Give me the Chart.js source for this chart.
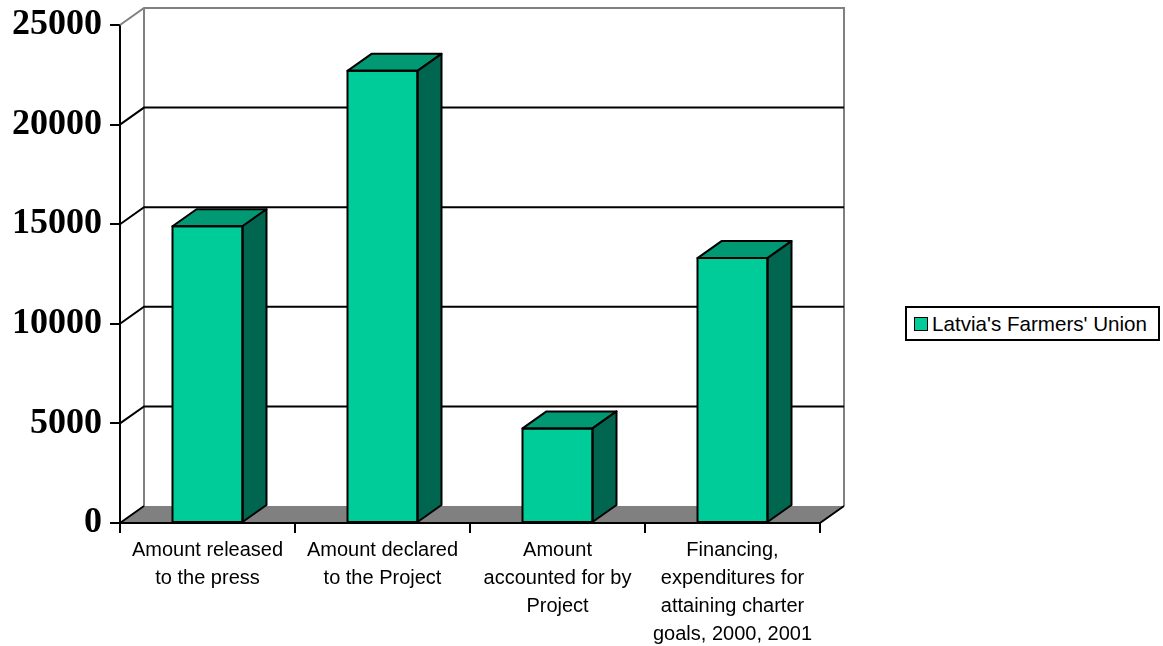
<!DOCTYPE html>
<html>
<head>
<meta charset="utf-8">
<script src="https://cdn.jsdelivr.net/npm/chart.js@4.4.1/dist/chart.umd.min.js"></script>
<style>
  html, body { margin: 0; padding: 0; background: #fff; }
  #wrap { position: relative; width: 1163px; height: 646px; }
  #legend {
    position: absolute; left: 905px; top: 306px; width: 251px; height: 31px;
    border: 2px solid #000; background: #fff;
    font-family: "Liberation Sans", Arial, sans-serif; font-size: 20.6px; color: #000;
    display: flex; align-items: center; box-sizing: content-box;
  }
  #legend .sw {
    width: 12px; height: 12px; background: #00cc99; border: 1.5px solid #000;
    margin: 0 4px 0 7px;
  }
</style>
</head>
<body>
<div id="wrap">
  <canvas id="chart" width="1163" height="646"></canvas>
  <div id="legend"><span class="sw"></span><span>Latvia's Farmers' Union</span></div>
</div>
<script>
const categories = [
  ['Amount released', 'to the press'],
  ['Amount declared', 'to the Project'],
  ['Amount', 'accounted for by', 'Project'],
  ['Financing,', 'expenditures for', 'attaining charter', 'goals, 2000, 2001']
];
const farmersUnion = [14900, 22700, 4750, 13300];
const seriesName = "Latvia's Farmers' Union";
const yTicks = [0, 5000, 10000, 15000, 20000, 25000];

// depth of the fake 3d box
const DX = 24, DY = -17;

const boxPlugin = {
  id: 'box3d',
  beforeDatasetsDraw(chart) {
    const { ctx, chartArea: a, scales: { y } } = chart;
    ctx.save();
    // floor
    ctx.fillStyle = '#808080';
    ctx.beginPath();
    ctx.moveTo(a.left, a.bottom);
    ctx.lineTo(a.left + DX, a.bottom + DY);
    ctx.lineTo(a.right + DX, a.bottom + DY);
    ctx.lineTo(a.right, a.bottom);
    ctx.closePath();
    ctx.fill();

    // walls outline
    ctx.strokeStyle = '#808080';
    ctx.lineWidth = 2;
    ctx.beginPath();
    ctx.moveTo(a.left, a.top);
    ctx.lineTo(a.left + DX, a.top + DY);
    ctx.lineTo(a.right + DX, a.top + DY);
    ctx.lineTo(a.right + DX, a.bottom + DY);
    ctx.moveTo(a.left + DX, a.top + DY);
    ctx.lineTo(a.left + DX, a.bottom + DY);
    ctx.stroke();

    // gridlines on back wall
    ctx.strokeStyle = '#000';
    ctx.lineWidth = 2;
    yTicks.slice(1, -1).forEach(v => {
      const py = y.getPixelForValue(v);
      ctx.beginPath();
      ctx.moveTo(a.left, py);
      ctx.lineTo(a.left + DX, py + DY);
      ctx.lineTo(a.right + DX, py + DY);
      ctx.stroke();
    });

    // floor edges
    ctx.beginPath();
    ctx.moveTo(a.left, a.bottom);
    ctx.lineTo(a.left + DX, a.bottom + DY);
    ctx.moveTo(a.right, a.bottom);
    ctx.lineTo(a.right + DX, a.bottom + DY);
    ctx.moveTo(a.left, a.bottom);
    ctx.lineTo(a.right, a.bottom);
    ctx.stroke();
    ctx.restore();
  },
  afterDatasetsDraw(chart) {
    const { ctx } = chart;
    const meta = chart.getDatasetMeta(0);
    ctx.save();
    ctx.strokeStyle = '#000';
    ctx.lineWidth = 2;
    ctx.lineJoin = 'round';
    meta.data.forEach(bar => {
      const { x, y, base, width } = bar.getProps(['x', 'y', 'base', 'width'], true);
      const x0 = x - width / 2, x1 = x + width / 2;
      // top
      ctx.fillStyle = '#009973';
      ctx.beginPath();
      ctx.moveTo(x0, y);
      ctx.lineTo(x0 + DX, y + DY);
      ctx.lineTo(x1 + DX, y + DY);
      ctx.lineTo(x1, y);
      ctx.closePath();
      ctx.fill();
      ctx.stroke();
      // side
      ctx.fillStyle = '#006650';
      ctx.beginPath();
      ctx.moveTo(x1, y);
      ctx.lineTo(x1 + DX, y + DY);
      ctx.lineTo(x1 + DX, base + DY);
      ctx.lineTo(x1, base);
      ctx.closePath();
      ctx.fill();
      ctx.stroke();
      // front outline
      ctx.strokeRect(x0, y, width, base - y);
    });
    ctx.restore();
  }
};

new Chart(document.getElementById('chart'), {
  type: 'bar',
  data: {
    labels: categories,
    datasets: [{
      label: seriesName,
      data: farmersUnion,
      backgroundColor: '#00cc99',
      borderWidth: 0,
      categoryPercentage: 1,
      barPercentage: 0.4,
    }],
  },
  options: {
    responsive: false,
    animation: false,
    devicePixelRatio: 1,
    layout: { padding: { top: 25, right: 343, left: 0, bottom: 0 } },
    plugins: {
      legend: { display: false },
      tooltip: { enabled: false },
    },
    scales: {
      x: {
        grid: { drawOnChartArea: false, drawTicks: true, tickLength: 10, color: '#000', lineWidth: 2, offset: true },
        border: { display: true, color: '#000', width: 2 },
        ticks: {
          color: '#000',
          font: { family: 'Liberation Sans', size: 20, lineHeight: 1.4 },
          padding: 3,
          maxRotation: 0,
          autoSkip: false,
        },
        afterFit(scale) {
          scale.height = 123;
          scale.paddingLeft = 0;
          scale.paddingRight = 0;
        },
      },
      y: {
        min: 0,
        max: 25000,
        ticks: {
          stepSize: 5000,
          color: '#000',
          padding: 8,
          font: { family: 'Liberation Serif', size: 36, weight: 'bold' },
          callback: v => String(v),
        },
        grid: { drawOnChartArea: false, drawTicks: true, tickLength: 10, color: '#000', lineWidth: 2 },
        border: { display: true, color: '#000', width: 2 },
        afterFit(scale) {
          scale.width = 120;
          scale.paddingTop = 0;
          scale.paddingBottom = 0;
        },
      },
    },
  },
  plugins: [boxPlugin],
});
</script>
</body>
</html>
